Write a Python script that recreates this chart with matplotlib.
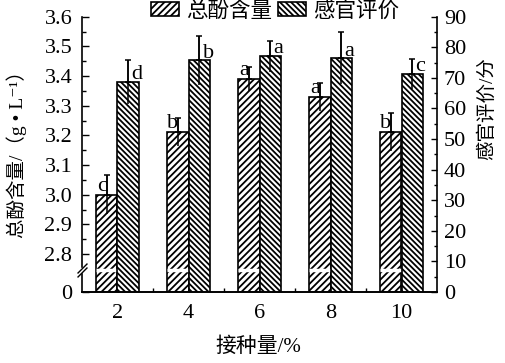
import numpy as np
import matplotlib
matplotlib.use('Agg')
import matplotlib.pyplot as plt
from matplotlib.path import Path
from matplotlib.ticker import FixedLocator, MultipleLocator

plt.rcParams['font.family'] = ['Liberation Serif', 'Noto Sans CJK SC', 'DejaVu Sans']
plt.rcParams['hatch.linewidth'] = 1.3

# ---------------- data ----------------
doses = [2, 4, 6, 8, 10]
phenol = [3.00, 3.21, 3.39, 3.33, 3.21]
phenol_err = [0.066, 0.047, 0.041, 0.047, 0.064]
sensory = [68.7, 75.7, 77.1, 76.4, 71.3]
sensory_err = [7.1, 8.0, 5.1, 8.5, 4.8]
phenol_letters = ['c', 'b', 'a', 'a', 'b']
sensory_letters = ['d', 'b', 'a', 'a', 'c']
left_ticks = [0, 2.8, 2.9, 3.0, 3.1, 3.2, 3.3, 3.4, 3.5, 3.6]
left_ticklabels = ['0', '2.8', '2.9', '3.0', '3.1', '3.2', '3.3', '3.4', '3.5', '3.6']
left_minor = [2.85, 2.95, 3.05, 3.15, 3.25, 3.35, 3.45, 3.55]

# ---------------- broken left scale ----------------
BREAK = 2.746
LOW_H = 22.0
HIGH_K = 297.0

def fwd(v):
    v = np.asarray(v, dtype=float)
    return np.where(v <= BREAK, v * LOW_H / BREAK, LOW_H + (v - BREAK) * HIGH_K)

def inv(t):
    t = np.asarray(t, dtype=float)
    return np.where(t <= LOW_H, t * BREAK / LOW_H, BREAK + (t - LOW_H) / HIGH_K)

W, H = 505, 363
fig = plt.figure(figsize=(W / 100, H / 100), dpi=100)
ax1 = fig.add_axes([82 / W, 1 - 292 / H, (437 - 82) / W, (292 - 16.7) / H])
ax1.set_yscale('function', functions=(fwd, inv))
ax1.set_ylim(0, 3.6)
ax1.set_xlim(1, 11)
ax2 = ax1.twinx()
ax2.set_ylim(0, 90)

w = 0.6
x = np.array(doses, dtype=float)
lw = 1.2
b1 = ax1.bar(x - w / 2, phenol, w, facecolor='white', edgecolor='black',
             hatch='/////', linewidth=lw, label='总酚含量', zorder=2)
b2 = ax2.bar(x + w / 2, sensory, w, facecolor='white', edgecolor='black',
             hatch='\\\\\\\\\\\\', linewidth=lw, label='感官评价', zorder=2)

# break line across phenol bars
ax1.hlines([BREAK] * len(x), x - w, x, colors='white', linewidth=2.5, zorder=3)

# error bars (cap only at top)
zeros = np.zeros(len(x))
for ax, xs, ys, es in [(ax1, x - w / 2, phenol, phenol_err), (ax2, x + w / 2, sensory, sensory_err)]:
    ax.errorbar(xs, ys, yerr=es, fmt='none', ecolor='black', elinewidth=1.1, capsize=0, zorder=4)
    ax.errorbar(xs, ys, yerr=[zeros, es], fmt='none', ecolor='black', elinewidth=1.1,
                capsize=2.5, capthick=1.1, zorder=4)

# significance letters
for xi, yi, lt in zip(x - w / 2, phenol, phenol_letters):
    ax1.annotate(lt, xy=(xi, yi), xytext=(0, 3), textcoords='offset points',
                 ha='right', va='baseline', fontsize=16)
for xi, yi, lt in zip(x + w / 2, sensory, sensory_letters):
    ax2.annotate(lt, xy=(xi, yi), xytext=(2.5, 2), textcoords='offset points',
                 ha='left', va='baseline', fontsize=16)

# ticks
ax1.set_yticks(left_ticks)
ax1.set_yticklabels(left_ticklabels)
ax1.yaxis.set_minor_locator(FixedLocator(left_minor))
ax1.set_xticks(doses)
ax1.set_xticklabels([str(d) for d in doses])
ax1.xaxis.set_minor_locator(FixedLocator([3, 5, 7, 9]))
ax1.tick_params(axis='both', which='both', direction='in', width=1.0, labelsize=16)
ax1.tick_params(axis='y', which='major', length=5, pad=7)
ax1.tick_params(axis='y', which='minor', length=3)
ax1.tick_params(axis='x', which='major', length=4, pad=9)
ax1.tick_params(axis='x', which='minor', length=3)
ax2.yaxis.set_major_locator(MultipleLocator(10))
ax2.yaxis.set_minor_locator(MultipleLocator(5))
ax2.tick_params(axis='y', which='both', direction='in', width=1.0, labelsize=16)
ax2.tick_params(axis='y', which='major', length=4, pad=5)
ax2.tick_params(axis='y', which='minor', length=2.5)

for ax in (ax1, ax2):
    ax.spines['top'].set_visible(False)
    for s in ax.spines.values():
        s.set_linewidth(1.2)
ax1.spines['right'].set_visible(False)
ax2.spines['left'].set_visible(False)

# axis break marks on the left spine
brk_path = Path([(-1, -1.4), (1, 0.6), (-1, -0.6), (1, 1.4)],
                [Path.MOVETO, Path.LINETO, Path.MOVETO, Path.LINETO])
ax1.plot([0], [BREAK], transform=ax1.get_yaxis_transform(), marker='s',
         markersize=3, color='white', markeredgecolor='white', clip_on=False, zorder=5)
ax1.plot([0], [BREAK], transform=ax1.get_yaxis_transform(), marker=brk_path,
         markersize=10, markeredgecolor='black', markerfacecolor='none',
         markeredgewidth=1.0, linestyle='none', clip_on=False, zorder=6)

# labels
fig.text(16.5 / W, 1 - 150 / H, '总酚含量/（g • L⁻¹）', rotation=90, ha='center', va='center', fontsize=14)
fig.text(487 / W, 1 - 109 / H, '感官评价/分', rotation=90, ha='center', va='center', fontsize=14)
fig.text(258 / W, 1 - 347 / H, '接种量/%', ha='center', va='center', fontsize=15)

fig.legend(handles=[b1, b2], loc='center', bbox_to_anchor=(275 / W, 1 - 11.5 / H), ncol=2,
           frameon=False, fontsize=15.5, handlelength=1.3, handleheight=0.62,
           handletextpad=0.3, columnspacing=0.3, borderaxespad=0, borderpad=0)

fig.savefig('out.png', dpi=100)
